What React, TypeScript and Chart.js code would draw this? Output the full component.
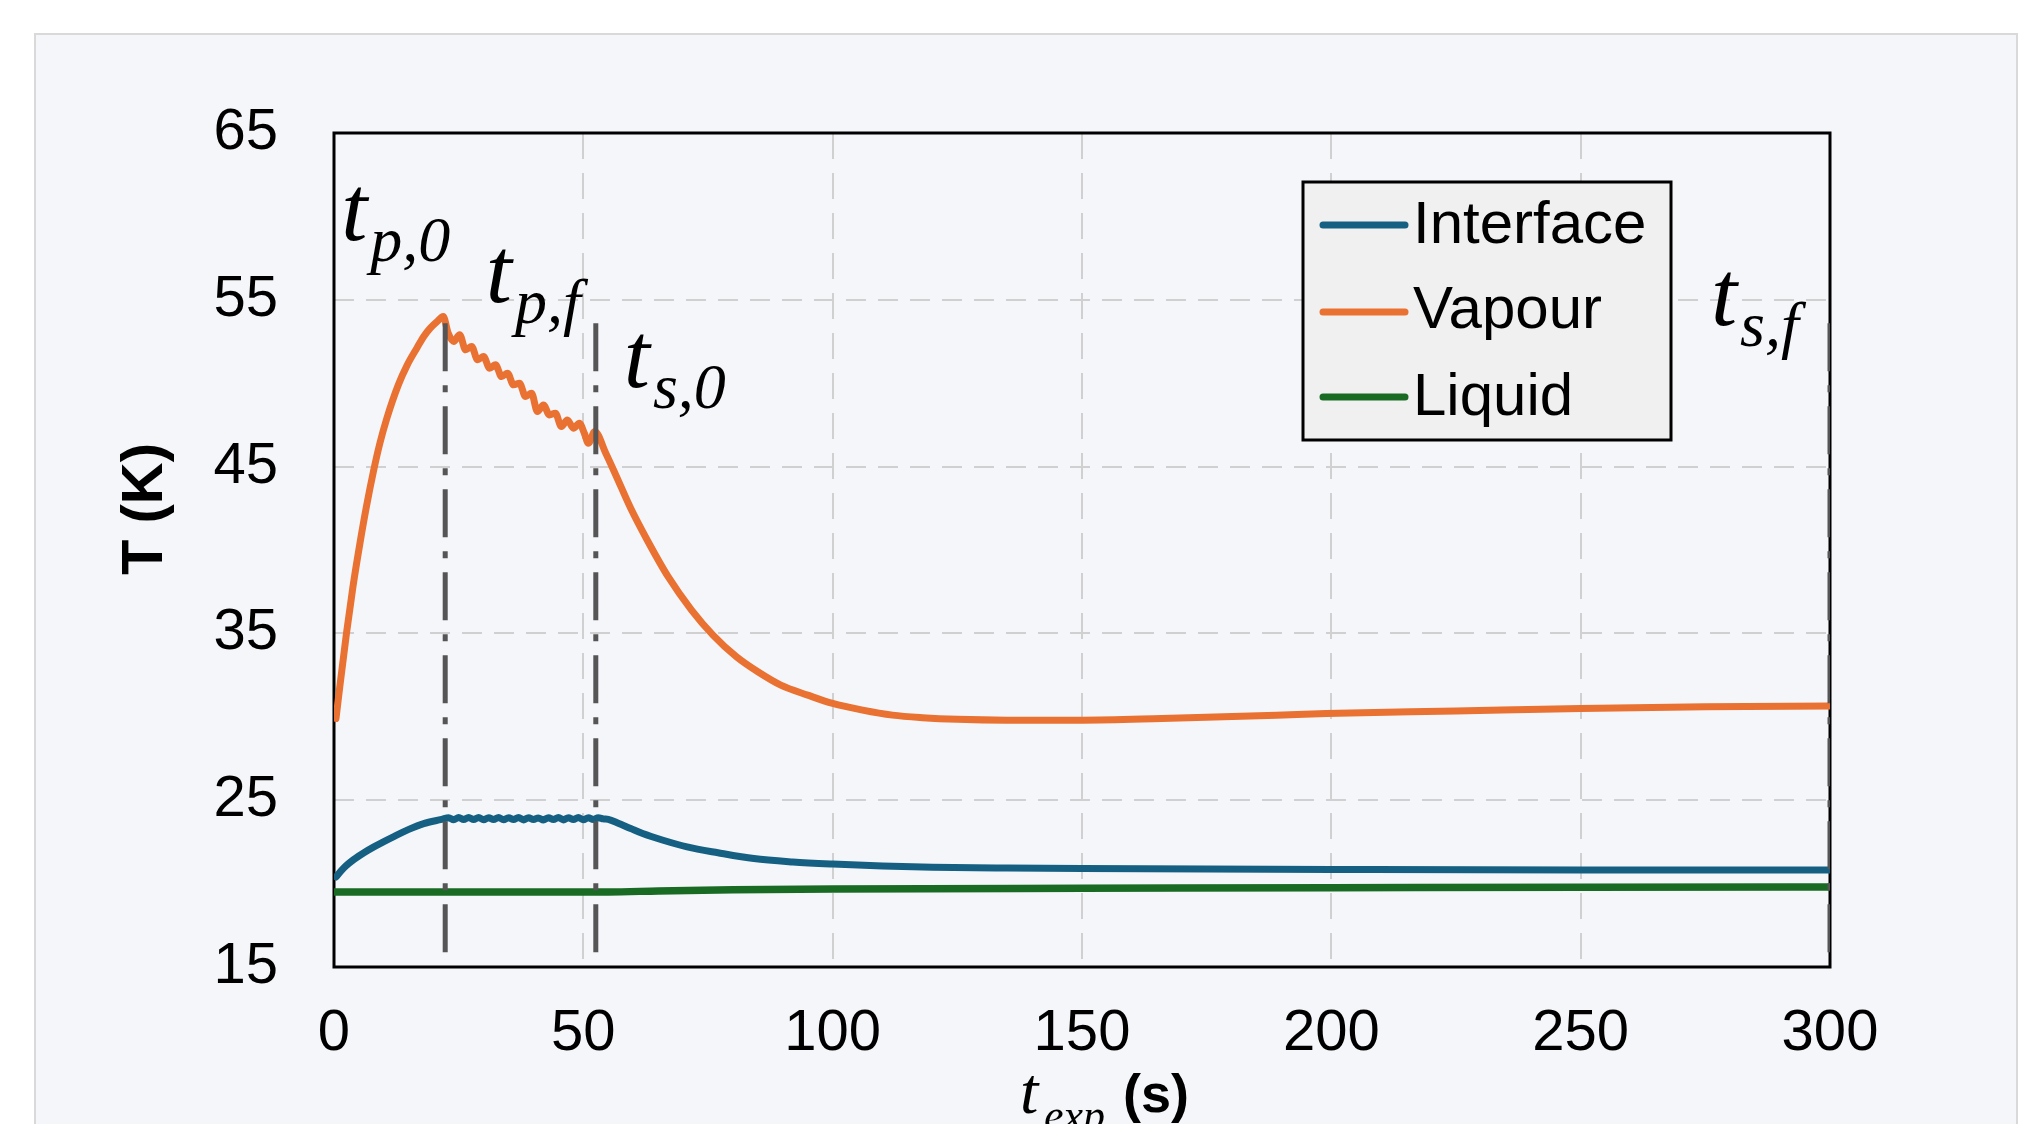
import React, { useEffect, useRef } from "react";
import { Chart, registerables } from "chart.js";

Chart.register(...registerables);

// ---------- data ----------
const seriesNames = ["Interface", "Vapour", "Liquid"];

const interfaceTime = [
  0.4, 2, 4, 6, 8, 10, 12, 15, 18, 21.6, 23, 24, 25, 26, 27, 28, 29, 30, 31, 32, 33, 34, 35, 36, 37, 38,
  39, 40, 41, 42, 43, 44, 45, 46, 47, 48, 49, 50, 51, 52, 53, 54, 55, 57, 59.5, 61.9, 66, 70.8, 77, 84.2,
  92, 100, 110, 120, 135, 150, 200, 250, 300,
];
const interfaceTemp = [
  20.4, 20.95, 21.45, 21.85, 22.2, 22.52, 22.82, 23.25, 23.6, 23.85, 23.95, 23.83, 23.96, 23.84, 23.96, 23.84,
  23.96, 23.83, 23.95, 23.84, 23.96, 23.83, 23.95, 23.84, 23.96, 23.82, 23.95, 23.84, 23.94, 23.82, 23.95,
  23.84, 23.96, 23.82, 23.95, 23.84, 23.96, 23.83, 23.95, 23.84, 23.95, 23.88, 23.85, 23.62, 23.3, 23.0,
  22.6, 22.2, 21.85, 21.5, 21.3, 21.17, 21.05, 20.98, 20.93, 20.9, 20.85, 20.82, 20.82,
];

const vapourTime = [
  0.4, 1.2, 2.5, 3.8, 5.2, 6.5, 7.9, 9.2, 10.6, 12.9, 14.7, 16.6, 18.0, 19.3, 20.7, 21.9, 22.9, 24.0, 25.2,
  26.4, 27.6, 28.8, 30.0, 31.2, 32.4, 33.6, 34.8, 36.0, 37.2, 38.4, 39.6, 40.8, 42.0, 43.2, 44.4, 45.6,
  46.8, 48.0, 49.2, 50.2, 51.0, 52.3, 54.5, 56.5, 59.5, 62.8, 67, 71.7, 76, 80.7, 85, 89.6, 95, 100, 106,
  112, 118, 125, 135, 150, 166, 189, 199, 225, 250, 275, 300,
];
const vapourTemp = [
  29.9, 31.9, 35.0, 37.8, 40.4, 42.6, 44.7, 46.4, 47.9, 49.9, 51.1, 52.1, 52.8, 53.3, 53.7, 54.0, 53.0,
  52.5, 52.9, 52.0, 52.2, 51.4, 51.6, 50.9, 51.1, 50.4, 50.6, 49.9, 50.0, 49.2, 49.4, 48.3, 48.7, 48.1,
  48.2, 47.4, 47.8, 47.3, 47.6, 47.0, 46.4, 47.1, 45.8, 44.5, 42.5, 40.6, 38.4, 36.4, 34.9, 33.6, 32.7,
  31.9, 31.3, 30.8, 30.4, 30.1, 29.95, 29.85, 29.8, 29.8, 29.9, 30.1, 30.2, 30.35, 30.5, 30.6, 30.65,
];

const liquidTime = [0, 20, 40, 55, 65, 80, 100, 150, 200, 250, 300];
const liquidTemp = [19.5, 19.5, 19.5, 19.5, 19.56, 19.63, 19.68, 19.72, 19.75, 19.78, 19.8];

// event markers (s) and their vertical extent (K)
const eventTimes = [22.3, 52.5, 300];
const eventTop = [53.6, 53.6, 53.6];
const eventBottom = [15.6, 15.6, 15.6];
const eventSubscripts = ["p,0", "p,f", "s,0", "s,f"];
const eventOfLabel = [0, 1, 1, 2];

const xTicks = [0, 50, 100, 150, 200, 250, 300];
const yTicks = [15, 25, 35, 45, 55, 65];
const yTitle = "T (K)";

// ---------- styles / layout ----------
const COLORS = ["#156082", "#E97132", "#196B24"];
const EVENT_COLOR = "#555555";
const SANS = '"Liberation Sans", Arial, sans-serif';
const SERIF = '"Liberation Serif", "Times New Roman", serif';
const LABEL_DX = [-104, -110, 28, -119];
const LABEL_DY = [107, 169, 254, 192];

const App = () => {
  const ref = useRef<HTMLCanvasElement>(null);

  useEffect(() => {
    const canvas = ref.current;
    if (!canvas) return;
    const toXY = (ts: number[], vs: number[]) => ts.map((t, i) => ({ x: t, y: vs[i] }));
    const seriesData = [
      toXY(interfaceTime, interfaceTemp),
      toXY(vapourTime, vapourTemp),
      toXY(liquidTime, liquidTemp),
    ];

    const datasets: any[] = [
      ...eventTimes.map((t, i) => ({
        label: "event" + i,
        data: [
          { x: t, y: eventTop[i] },
          { x: t, y: eventBottom[i] },
        ],
        borderColor: EVENT_COLOR,
        borderWidth: 5,
        borderDash: [48, 14, 7, 14],
        borderCapStyle: "butt",
        pointRadius: 0,
        order: 0,
        isEvent: true,
      })),
      ...seriesNames.map((name, i) => ({
        label: name,
        data: seriesData[i],
        borderColor: COLORS[i],
        backgroundColor: COLORS[i],
        borderWidth: i === 2 ? 7.5 : 7,
        pointRadius: 0,
        cubicInterpolationMode: "monotone",
        borderJoinStyle: "round",
        borderCapStyle: "round",
        order: i + 1,
        isEvent: false,
      })),
    ];

    const framePlugin = {
      id: "frame",
      beforeDatasetsDraw(chart: any) {
        const { ctx, chartArea: a } = chart;
        ctx.save();
        ctx.strokeStyle = "#000";
        ctx.lineWidth = 3;
        ctx.strokeRect(a.left, a.top, a.right - a.left, a.bottom - a.top);
        ctx.restore();
      },
    };

    const overlayPlugin = {
      id: "overlay",
      afterDraw(chart: any) {
        const { ctx, chartArea: a } = chart;
        const xs = chart.scales.x;
        ctx.save();
        ctx.fillStyle = "#000";

        // y title
        ctx.save();
        ctx.translate(a.left - 172, a.top + 376);
        ctx.rotate(-Math.PI / 2);
        ctx.font = `bold 58px ${SANS}`;
        ctx.textAlign = "center";
        ctx.textBaseline = "alphabetic";
        ctx.fillText(yTitle, 0, 0);
        ctx.restore();

        // x title: t_exp (s)
        ctx.textAlign = "left";
        ctx.textBaseline = "alphabetic";
        ctx.font = `italic 66px ${SERIF}`;
        ctx.fillText("t", a.left + 686, a.bottom + 146);
        ctx.font = `italic 44px ${SERIF}`;
        ctx.fillText("exp", a.left + 710, a.bottom + 163);
        ctx.font = `bold 54px ${SANS}`;
        ctx.fillText("(s)", a.left + 789, a.bottom + 145);

        // legend
        const bx = a.right - 527;
        const by = a.top + 49;
        ctx.fillStyle = "#f0f0f0";
        ctx.fillRect(bx, by, 368, 258);
        ctx.strokeStyle = "#000";
        ctx.lineWidth = 3;
        ctx.strokeRect(bx, by, 368, 258);
        const rowLine = [43, 130, 215];
        const rowText = [61, 146, 233];
        const legendSets = chart.data.datasets.filter((d: any) => !d.isEvent);
        legendSets.forEach((d: any, i: number) => {
          ctx.strokeStyle = d.borderColor;
          ctx.lineWidth = 7;
          ctx.lineCap = "round";
          ctx.beginPath();
          ctx.moveTo(bx + 20, by + rowLine[i]);
          ctx.lineTo(bx + 102, by + rowLine[i]);
          ctx.stroke();
          ctx.fillStyle = "#000";
          ctx.font = `60px ${SANS}`;
          ctx.fillText(d.label, bx + 110, by + rowText[i]);
        });

        // event labels
        ctx.fillStyle = "#000";
        eventSubscripts.forEach((sub, i) => {
          const lx = xs.getPixelForValue(eventTimes[eventOfLabel[i]]) + LABEL_DX[i];
          const ly = a.top + LABEL_DY[i];
          ctx.font = `italic 94px ${SERIF}`;
          ctx.fillText("t", lx, ly);
          const w = ctx.measureText("t").width;
          ctx.font = `italic 64px ${SERIF}`;
          ctx.fillText(sub, lx + w + 3, ly + 21);
        });
        ctx.restore();
      },
    };

    const chart = new Chart(canvas, {
      type: "line",
      data: { datasets },
      options: {
        responsive: false,
        animation: false,
        devicePixelRatio: 1,
        layout: { padding: { top: 133, right: 193, bottom: 0, left: 0 } },
        plugins: { legend: { display: false }, tooltip: { enabled: false } },
        elements: { point: { radius: 0 } },
        scales: {
          x: {
            type: "linear",
            min: 0,
            max: 300,
            afterBuildTicks: (s: any) => {
              s.ticks = xTicks.map((v) => ({ value: v }));
            },
            afterFit: (s: any) => {
              s.height = 157;
            },
            grid: { color: "#d0d0d0", lineWidth: 2, drawTicks: false },
            border: { display: false, dash: [26, 14] },
            ticks: {
              color: "#000",
              font: { family: SANS, size: 58 },
              padding: 32,
              maxRotation: 0,
              autoSkip: false,
            },
          },
          y: {
            type: "linear",
            min: 15,
            max: 65,
            afterBuildTicks: (s: any) => {
              s.ticks = yTicks.map((v) => ({ value: v }));
            },
            afterFit: (s: any) => {
              s.width = 334;
            },
            grid: { color: "#d0d0d0", lineWidth: 2, drawTicks: false },
            border: { display: false, dash: [20, 12] },
            ticks: {
              color: "#000",
              font: { family: SANS, size: 58 },
              padding: 56,
              autoSkip: false,
            },
          },
        },
      } as any,
      plugins: [framePlugin, overlayPlugin],
    });
    return () => chart.destroy();
  }, []);

  return (
    <div
      style={{
        position: "fixed",
        left: 0,
        top: 0,
        width: 2023,
        height: 1124,
        background: "#ffffff",
        overflow: "hidden",
      }}
    >
      <div
        style={{
          position: "absolute",
          left: 34,
          top: 33,
          width: 1980,
          height: 1200,
          background: "#f5f6fa",
          border: "2px solid #d9d9d9",
        }}
      />
      <canvas
        ref={ref}
        width={2023}
        height={1124}
        style={{ position: "absolute", left: 0, top: 0, width: 2023, height: 1124 }}
      />
    </div>
  );
};

export default App;
